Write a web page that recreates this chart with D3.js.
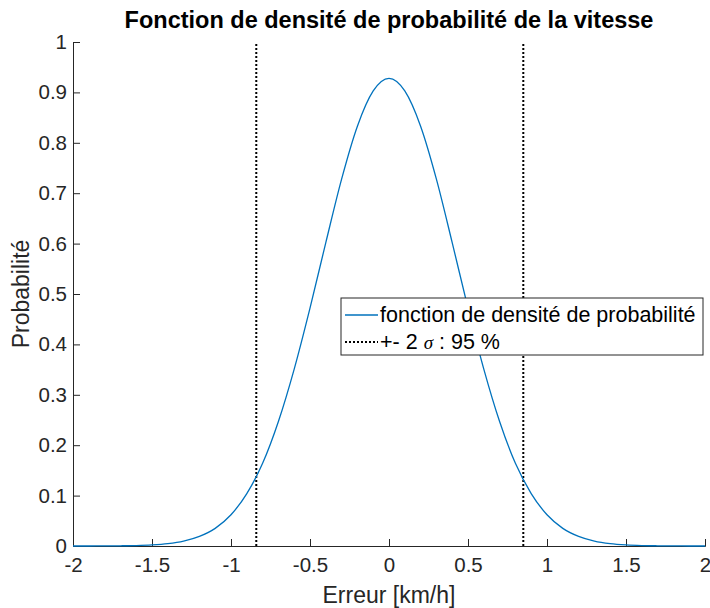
<!DOCTYPE html>
<html lang="fr">
<head>
<meta charset="UTF-8">
<title>Fonction de densité</title>
<script src="https://cdn.jsdelivr.net/npm/d3@7"></script>
<style>
  body { margin: 0; background: #fff; }
  text { font-family: "Liberation Sans", Arial, sans-serif; fill: #262626; }
</style>
</head>
<body>
<script>
    // valeurs (pas de 0.1)
    const xs = [-2, -1.9, -1.8, -1.7, -1.6, -1.5, -1.4, -1.3, -1.2, -1.1, -1, -0.9, -0.8, -0.7, -0.6, -0.5, -0.4, -0.3, -0.2, -0.1,
        0, 0.1, 0.2, 0.3, 0.4, 0.5, 0.6, 0.7, 0.8, 0.9, 1, 1.1, 1.2, 1.3, 1.4, 1.5, 1.6, 1.7, 1.8, 1.9, 2]
    const density = [0.00002, 0.00005, 0.00015, 0.0004, 0.0009, 0.0021, 0.0046, 0.0096, 0.019, 0.035, 0.062, 0.104, 0.164, 0.247, 0.351, 0.472, 0.602, 0.728, 0.833, 0.903,
        0.928, 0.903, 0.833, 0.728, 0.602, 0.472, 0.351, 0.247, 0.164, 0.104, 0.062, 0.035, 0.019, 0.0096, 0.0046, 0.0021, 0.0009, 0.0004, 0.00015, 0.00005, 0.00002]
    const bounds = [-0.84, 0.85]
    const xTicks = [-2, -1.5, -1, -0.5, 0, 0.5, 1, 1.5, 2]
    const yTicks = [0, 0.1, 0.2, 0.3, 0.4, 0.5, 0.6, 0.7, 0.8, 0.9, 1]

    const [width, height] = [710, 608]
    const margin = {left: 73, right: 5, top: 42, bottom: 62}
    const axisColor = '#262626'

    const svg = d3.select('body').append('svg').attr('width', width).attr('height', height)

    const x = d3.scaleLinear().domain([-2, 2]).range([margin.left, width - margin.right])
    const y = d3.scaleLinear().domain([0, 1]).range([height - margin.bottom, margin.top])

    // axes (ticks vers l'intérieur, comme MATLAB)
    const xAxis = d3.axisBottom(x).tickValues(xTicks).tickSize(-7).tickPadding(11)
    const yAxis = d3.axisLeft(y).tickValues(yTicks).tickSize(-7).tickPadding(6)

    const gx = svg.append('g').attr('transform', `translate(0, ${y(0)})`).call(xAxis)
    const gy = svg.append('g').attr('transform', `translate(${x(-2)}, 0)`).call(yAxis)
    for (const g of [gx, gy]) {
        g.select('.domain').attr('stroke', axisColor).attr('stroke-width', 1)
        g.selectAll('.tick line').attr('stroke', axisColor)
        g.selectAll('.tick text').attr('font-size', 20.5).attr('fill', axisColor)
            .style('font-family', '"Liberation Sans", Arial, sans-serif')
            .text(d => d3.format('~g')(d).replace('−', '-'))
    }

    // lignes ±2σ
    svg.selectAll('line.bound').data(bounds).join('line').attr('class', 'bound')
        .attr('x1', d => x(d)).attr('x2', d => x(d))
        .attr('y1', y(0)).attr('y2', y(1))
        .attr('stroke', '#000').attr('stroke-width', 2).attr('stroke-dasharray', '2,2')

    // courbe
    const line = d3.line().x((d, i) => x(xs[i])).y(d => y(d)).curve(d3.curveMonotoneX)
    svg.append('path').datum(density).attr('d', line)
        .attr('fill', 'none').attr('stroke', '#0072BD').attr('stroke-width', 1.3)

    // titre et libellés
    svg.append('text').attr('x', x(0)).attr('y', 28).attr('text-anchor', 'middle')
        .attr('font-size', 23.5).attr('font-weight', 'bold').style('fill', '#000')
        .text('Fonction de densité de probabilité de la vitesse')
    svg.append('text').attr('x', x(0)).attr('y', 603).attr('text-anchor', 'middle')
        .attr('font-size', 23).text('Erreur [km/h]')
    svg.append('text').attr('transform', `translate(29, ${y(0.5)}) rotate(-90)`).attr('text-anchor', 'middle')
        .attr('font-size', 23).text('Probabilité')

    // légende
    const legend = svg.append('g').attr('transform', 'translate(341, 298)')
    legend.append('rect').attr('width', 362).attr('height', 57)
        .attr('fill', '#fff').attr('stroke', axisColor).attr('stroke-width', 1)
    legend.append('line').attr('x1', 4).attr('x2', 37).attr('y1', 17).attr('y2', 17)
        .attr('stroke', '#0072BD').attr('stroke-width', 1.3)
    legend.append('line').attr('x1', 4).attr('x2', 37).attr('y1', 44).attr('y2', 44)
        .attr('stroke', '#000').attr('stroke-width', 2).attr('stroke-dasharray', '2,2')
    legend.append('text').attr('x', 39).attr('y', 24).attr('font-size', 21.5).style('fill', '#000')
        .text('fonction de densité de probabilité')
    const t2 = legend.append('text').attr('x', 39).attr('y', 51).attr('font-size', 21.5).style('fill', '#000')
    t2.append('tspan').text('+- 2 ')
    t2.append('tspan').attr('font-style', 'italic').attr('font-size', 19)
        .style('font-family', '"Liberation Serif", "DejaVu Serif", serif').text('σ')
    t2.append('tspan').text(' : 95 %')
</script>
</body>
</html>
